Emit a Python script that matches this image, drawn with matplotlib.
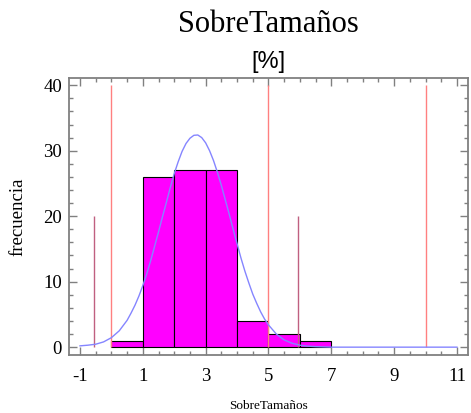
import matplotlib
matplotlib.use('Agg')
from matplotlib import pyplot as plt
from matplotlib.ticker import MultipleLocator

plt.rcParams['axes.unicode_minus'] = False

# histogram bins (left edges) and counts
bin_left = [0, 1, 2, 3, 4, 5, 6]
counts = [1, 26, 27, 27, 4, 2, 1]

# fitted curve
curve_x = [-1, -0.75, -0.5, -0.25, 0, 0.25, 0.5, 0.625, 0.75, 0.875, 1, 1.125,
           1.25, 1.375, 1.5, 1.625, 1.75, 1.875, 2, 2.125, 2.25, 2.375, 2.5,
           2.625, 2.75, 2.875, 3, 3.125, 3.25, 3.375, 3.5, 3.625, 3.75, 3.875,
           4, 4.125, 4.25, 4.375, 4.5, 4.625, 4.75, 4.875, 5, 5.25, 5.5, 5.75,
           6, 6.25, 6.5, 7, 11]
curve_y = [0.2, 0.3, 0.45, 0.8, 1.45, 2.5, 4.1, 5.2, 6.4, 7.8, 9.4, 11.2,
           13.2, 15.4, 17.6, 19.9, 22.1, 24.4, 26.5, 28.3, 29.9, 31.1, 31.9,
           32.35, 32.4, 32.0, 31.2, 30.0, 28.5, 26.7, 24.7, 22.5, 20.3, 18.0,
           15.8, 13.6, 11.6, 9.8, 8.1, 6.7, 5.4, 4.3, 3.4, 2.0, 1.1, 0.6,
           0.3, 0.15, 0.08, 0.0, 0.0]

# reference lines
long_lines = [0, 5, 10]
long_height = 40
short_lines = [-0.55, 5.95]
short_height = 20

fig = plt.figure(figsize=(4.71, 4.13), dpi=100)
ax = fig.add_axes([0.1465, 0.1404, 0.847, 0.6707])

ax.bar(bin_left, counts, width=1, align='edge', color='#ff00ff',
       edgecolor='black', linewidth=0.8, zorder=2)
ax.vlines(long_lines, 0, long_height, color='#ff8080', lw=1, zorder=3)
ax.vlines(short_lines, 0, short_height, color='#c06080', lw=1, zorder=3)
ax.plot(curve_x, curve_y, color='#8585ff', lw=1, zorder=4)

ax.set_xlim(-1.35, 11.35)
ax.set_ylim(-1.2, 41.1)
ax.xaxis.set_minor_locator(MultipleLocator(0.5))
ax.yaxis.set_major_locator(MultipleLocator(10))
ax.yaxis.set_minor_locator(MultipleLocator(2))
ax.set_xticks([-1, 1, 3, 5, 7, 9, 11])

serif = 'Liberation Serif'
ax.tick_params(which='both', direction='in', top=True, right=True, color='#808080')
ax.tick_params(which='major', length=5.5, width=1)
ax.tick_params(which='minor', length=3, width=1)
ax.tick_params(axis='x', pad=9)
ax.tick_params(axis='y', pad=5)
for lab in ax.get_xticklabels() + ax.get_yticklabels():
    lab.set_fontfamily(serif)
    lab.set_fontsize(13.5)
for s in ax.spines.values():
    s.set_color('#808080')
    s.set_linewidth(1.3)

ax.set_ylabel('frecuencia', fontfamily=serif, fontsize=13.5, labelpad=12)
ax.set_xlabel('SobreTamaños', fontfamily=serif, fontsize=9.5, labelpad=11)
fig.text(0.5705, 0.94, 'SobreTamaños', fontfamily=serif, fontsize=22,
         ha='center', va='center')
fig.text(0.5705, 0.849, '[%]', fontfamily='Liberation Sans', fontsize=17,
         ha='center', va='center')

plt.savefig('out.png', dpi=100)
plt.close()
